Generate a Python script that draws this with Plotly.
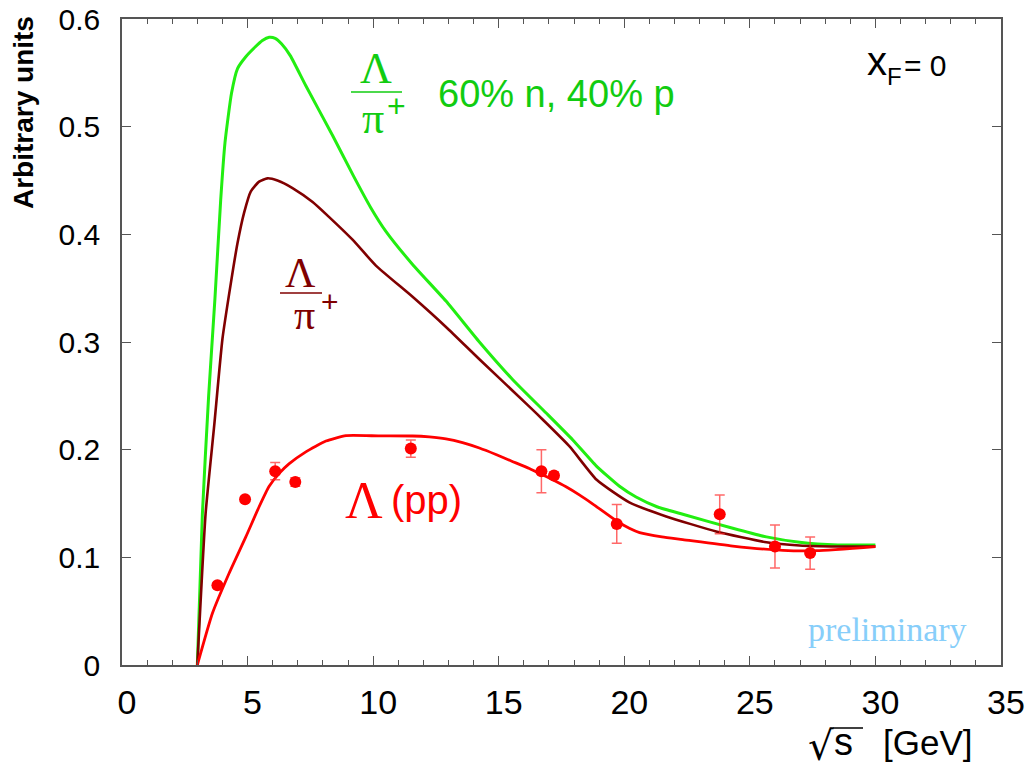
import plotly.graph_objects as go

# Measured Lambda yield (pp), x_F = 0
sqrt_s = [3.8, 4.9, 6.1, 6.9, 11.5, 16.7, 17.2, 19.7, 23.8, 26.0, 27.4]
yield_pp = [0.074, 0.154, 0.180, 0.170, 0.201, 0.180, 0.176, 0.131, 0.140, 0.110, 0.104]
yield_err = [0.002, 0.002, 0.008, 0.004, 0.008, 0.020, 0.003, 0.018, 0.018, 0.020, 0.015]

# Model curve: Lambda/pi+ for 60% n, 40% p
green_x = [3.0, 3.2, 3.45, 3.7, 3.93, 4.1, 4.36, 4.6, 4.93, 5.3, 5.59, 5.86, 6.1, 6.35,
           6.7, 7.32, 8.38, 9.2, 9.9, 10.5, 11.57, 12.9, 14.23, 15.56, 16.89, 17.95,
           18.88, 19.81, 20.47, 21.3, 22.33, 24.32, 25.66, 26.98, 28.5, 30.0]
green_y = [0.0, 0.14, 0.25, 0.34, 0.432, 0.485, 0.531, 0.554, 0.565, 0.574, 0.580, 0.583,
           0.582, 0.577, 0.566, 0.538, 0.492, 0.455, 0.425, 0.403, 0.372, 0.338, 0.300,
           0.265, 0.234, 0.209, 0.185, 0.166, 0.156, 0.147, 0.140, 0.127, 0.119, 0.114,
           0.1115, 0.1115]

# Model curve: Lambda/pi+
brown_x = [3.0, 3.33, 3.67, 4.0, 4.33, 4.6, 4.86, 5.13, 5.46, 5.79, 6.19, 6.79, 7.59,
           8.25, 9.18, 10.11, 11.57, 12.9, 14.23, 16.22, 16.75, 17.82, 18.9, 20.2,
           21.67, 23.66, 25.66, 26.98, 28.5, 30.0]
brown_y = [0.0, 0.141, 0.222, 0.303, 0.354, 0.392, 0.420, 0.440, 0.449, 0.452, 0.450,
           0.443, 0.430, 0.416, 0.395, 0.371, 0.342, 0.314, 0.284, 0.240, 0.228, 0.203,
           0.172, 0.151, 0.138, 0.124, 0.114, 0.111, 0.110, 0.110]

# Model curve: Lambda (pp)
red_x = [3.0, 3.6, 4.26, 4.93, 5.46, 5.86, 6.26, 6.66, 7.32, 8.12, 8.92, 10.24, 11.57,
         12.24, 12.9, 13.56, 14.23, 14.89, 15.5, 16.22, 16.67, 17.15, 17.68, 18.21,
         18.75, 19.68, 20.2, 20.61, 21.5, 22.33, 24.32, 26.32, 27.65, 30.0]
red_y = [0.0, 0.048, 0.085, 0.119, 0.147, 0.166, 0.178, 0.187, 0.198, 0.208, 0.2130,
         0.2128, 0.2127, 0.2118, 0.2100, 0.2065, 0.2015, 0.1955, 0.1895, 0.1825, 0.1775,
         0.1720, 0.1655, 0.1580, 0.1495, 0.1340, 0.1270, 0.1230, 0.1190, 0.1165, 0.1105,
         0.1065, 0.1062, 0.1100]

GREEN_LINE = "#22ee11"
GREEN_TEXT = "#11cc11"
BROWN = "#800000"
RED = "#ff0000"
SANS = "Liberation Sans, Arial, sans-serif"
SERIF = "Liberation Serif, Times New Roman, serif"

W, H = 1030, 773
ML, MR, MT, MB = 122, 29, 19, 108
PW, PH = W - ML - MR, H - MT - MB


def px(xp):
    return (xp - ML) / PW


def py(yp):
    return (H - MB - yp) / PH


fig = go.Figure()

fig.add_trace(go.Scatter(x=green_x, y=green_y, mode="lines",
                         line=dict(color=GREEN_LINE, width=3, shape="spline", smoothing=0.5),
                         hoverinfo="skip"))
fig.add_trace(go.Scatter(x=brown_x, y=brown_y, mode="lines",
                         line=dict(color=BROWN, width=2.6, shape="spline", smoothing=0.5),
                         hoverinfo="skip"))
fig.add_trace(go.Scatter(x=red_x, y=red_y, mode="lines",
                         line=dict(color=RED, width=2.8, shape="spline", smoothing=0.5),
                         hoverinfo="skip"))
fig.add_trace(go.Scatter(x=sqrt_s, y=yield_pp, mode="markers",
                         marker=dict(color=RED, size=12, line=dict(width=0)),
                         error_y=dict(type="data", array=yield_err, visible=True,
                                      color="rgba(255,40,40,0.7)", thickness=1.5, width=5)))

annotations = []
shapes = []


def label(text, xp, yp, size, color, family=SANS, xanchor="center", yanchor="middle", **kw):
    annotations.append(dict(text=text, x=px(xp), y=py(yp), xref="paper", yref="paper",
                            showarrow=False, xanchor=xanchor, yanchor=yanchor,
                            font=dict(size=size, color=color, family=family), **kw))


def hline(x0, x1, yp, color, width=1.5):
    shapes.append(dict(type="line", xref="paper", yref="paper",
                       x0=px(x0), x1=px(x1), y0=py(yp), y1=py(yp),
                       line=dict(color=color, width=width)))


# Lambda/pi+ (60% n, 40% p)
label("Λ", 376, 68, 44, GREEN_TEXT, SERIF)
hline(351, 402, 92, GREEN_TEXT)
label("π", 372.5, 118, 44, GREEN_TEXT, SERIF)
label("+", 396, 106, 32, GREEN_TEXT)
label("60% n, 40% p", 436, 94, 38, GREEN_TEXT, xanchor="left")

# Lambda/pi+
label("Λ", 300.5, 273, 42, BROWN, SERIF)
hline(280, 322, 293, BROWN)
label("π", 304.5, 315, 42, BROWN, SERIF)
label("+", 330, 302, 30, BROWN)

# Lambda (pp)
label("Λ", 364, 501, 52, RED, SERIF)
label("(pp)", 389, 500, 40, RED, xanchor="left")

# x_F = 0
label("x", 877, 61, 40, "black")
label("F", 894, 76, 24, "black")
label("= 0", 902, 65, 30, "black", xanchor="left")

# preliminary
label("preliminary", 887, 629, 34, "#87cefa", SERIF)

# axis titles
label("<b>Arbitrary units</b>", 23, 113, 28, "black", textangle=-90)
label("√", 821, 746, 40, "black", family="DejaVu Sans")
hline(833, 863, 728, "black", 1.5)
label("s", 843, 742, 38, "black")
label("[GeV]", 881, 742, 35, "black", xanchor="left")

axis_common = dict(showline=True, mirror="ticks", linecolor="#555555", linewidth=1.5,
                   ticks="inside", tickcolor="#555555", tickwidth=1.2, ticklen=9,
                   showgrid=False, zeroline=False, automargin=False)

fig.update_layout(
    width=W, height=H,
    margin=dict(l=ML, r=MR, t=MT, b=MB, autoexpand=False),
    paper_bgcolor="white", plot_bgcolor="white",
    showlegend=False,
    xaxis=dict(range=[0, 35], tickvals=[0, 5, 10, 15, 20, 25, 30, 35],
               tickfont=dict(family=SANS, size=34, color="black"),
               minor=dict(dtick=1, ticks="inside", ticklen=5, tickcolor="#555555", tickwidth=1.2),
               ticklabelshift=5, ticklabelstandoff=6,
               **axis_common),
    yaxis=dict(range=[0, 0.6], tickvals=[0, 0.1, 0.2, 0.3, 0.4, 0.5, 0.6],
               ticktext=["0", "0.1", "0.2", "0.3", "0.4", "0.5", "0.6"],
               tickfont=dict(family=SANS, size=30, color="black"),
               ticklabelstandoff=14,
               **axis_common),
    annotations=annotations,
    shapes=shapes,
)

fig.write_html("out.html")
